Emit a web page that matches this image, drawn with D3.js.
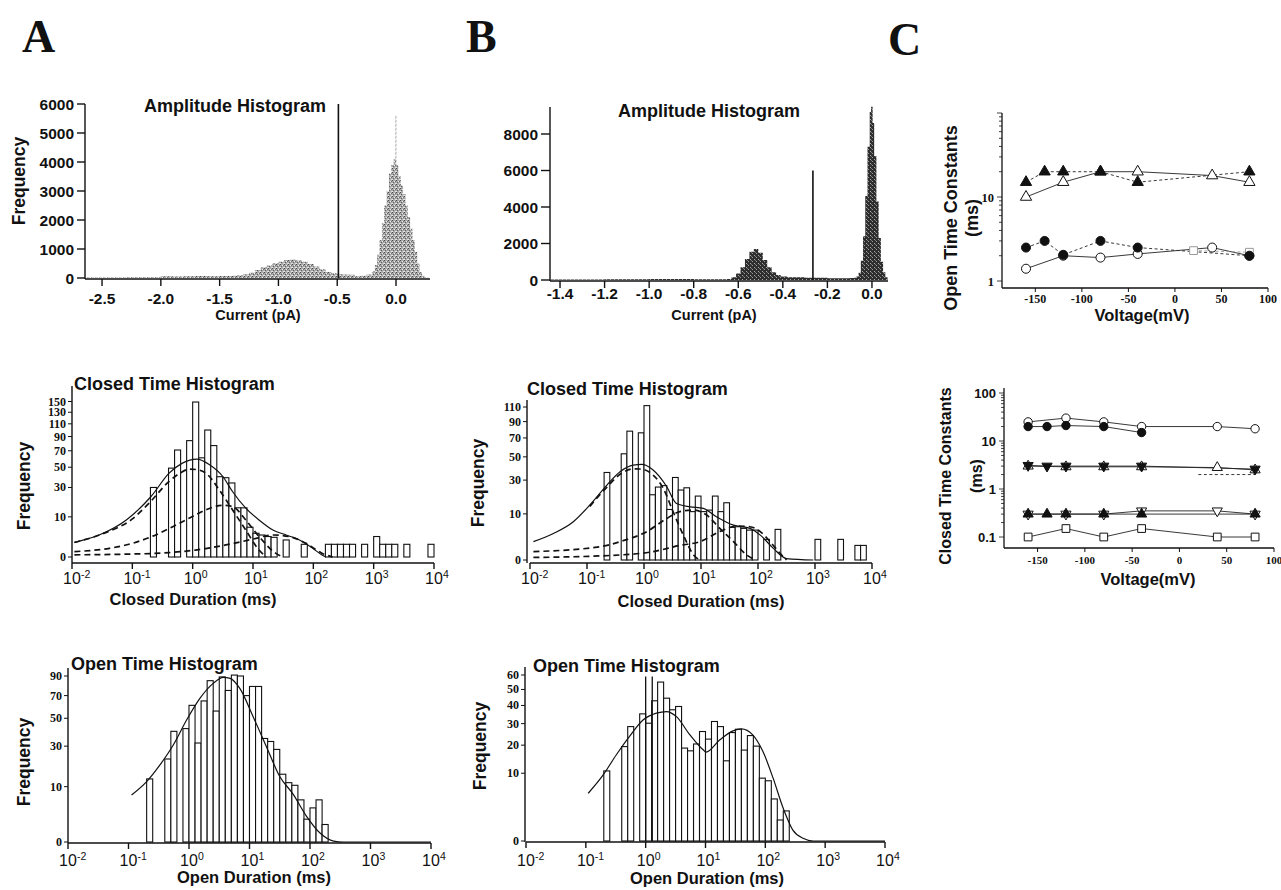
<!DOCTYPE html>
<html>
<head>
<meta charset="utf-8">
<script src="https://cdn.jsdelivr.net/npm/d3@7/dist/d3.min.js"></script>
<style>
  body { margin: 0; background: #fff; }
  text { font-family: "Liberation Sans", Arial, sans-serif; fill: #111; }
  .ser { font-family: "Liberation Serif", "Times New Roman", serif; }
</style>
</head>
<body>
<svg id="fig" width="1281" height="890"></svg>
<script>
// ---------- amplitude histograms (bin left edge in pA, count) ----------
var ampA_I = [-2.64,-2.5,-2.3,-2.1,-2.0,-1.9,-1.8,-1.7,-1.6,-1.5,-1.4,-1.35,-1.3,-1.25,-1.2,-1.15,-1.1,-1.05,-1.0,-0.95,
              -0.9,-0.85,-0.8,-0.75,-0.7,-0.65,-0.6,-0.55,-0.5,-0.45,-0.4,-0.35,-0.3,-0.25,-0.2,-0.18,-0.16,-0.14,-0.12,-0.1,
              -0.08,-0.06,-0.04,-0.02,-0.004,0.002,0.02,0.04,0.06,0.08,0.1,0.12,0.14,0.16,0.18,0.2,0.22,0.24,0.26,0.28];
var ampA_N = [20,20,25,30,60,55,60,65,60,70,80,100,130,180,280,380,430,520,560,620,
              640,600,560,480,400,300,210,160,130,120,110,60,80,120,240,450,800,1300,1900,2500,
              3000,3600,3900,4100,5600,3900,3500,3200,2900,2500,2100,1700,1300,900,500,200,80,30,10,0];
var ampA_xticks = [-2.5,-2.0,-1.5,-1.0,-0.5,0.0];
var ampA_yticks = [0,1000,2000,3000,4000,5000,6000];
var ampA_cut = -0.49;

var ampB_I = [-1.445,-1.2,-1.0,-0.8,-0.65,-0.63,-0.61,-0.59,-0.57,-0.55,-0.53,-0.51,-0.49,-0.47,-0.45,-0.43,-0.41,-0.38,
              -0.3,-0.2,-0.1,-0.08,-0.07,-0.06,-0.05,-0.04,-0.03,-0.02,-0.01,-0.004,0.003,0.01,0.02,0.03,0.04,0.05,0.06,0.07];
var ampB_N = [30,40,50,40,60,150,350,700,1150,1550,1700,1500,1100,700,420,270,190,150,
              120,100,110,130,190,400,1050,2400,4600,7300,9200,9500,8600,6800,4300,2300,1000,420,150,0];
var ampB_xticks = [-1.4,-1.2,-1.0,-0.8,-0.6,-0.4,-0.2,0.0];
var ampB_yticks = [0,2000,4000,6000,8000];
var ampB_cut = -0.265;

// ---------- dwell-time histograms (bin start in log10 ms, 10 bins/decade) ----------
var closedA_bin = [-0.7,-0.4,-0.3,-0.1,0.0,0.1,0.2,0.3,0.4,0.5,0.6,0.7,0.8,0.9,1.0,1.1,1.2,1.3,1.5,1.8,
                   2.2,2.3,2.4,2.5,2.6,2.8,3.0,3.1,3.2,3.3,3.5,3.9];
var closedA_n   = [30,49,71,84,149,61,100,77,40,39,34,15,15,5.5,3.5,3,2.6,2.4,1.8,1,
                   1,1,1,1,1,1,2.6,1,1,1,1,1];
var closedA_fitT = [-1.96,-1.55,-1.1,-0.69,-0.39,-0.17,0.07,0.28,0.5,0.66,0.88,1.1,1.33,1.55,1.77,1.99,2.15,2.21];
var closedA_fitN = [1.34,3.0,8.5,22.7,43.6,54.7,59.5,52.8,40.2,26.6,14.8,8.5,4.5,3.0,1.8,0.47,0.02,0];
var closedA_c1T = [-1.96,-1.5,-1.0,-0.7,-0.4,-0.2,-0.05,0.1,0.22,0.44,0.66,0.88,1.1,1.22];
var closedA_c1N = [1.3,3.3,9,19,35,44,48,47,43.6,28,13.8,4.5,0.3,0];
var closedA_c2T = [-1.96,-1.38,-1.0,-0.66,-0.33,-0.06,0.22,0.5,0.66,0.88,1.1,1.38,1.5];
var closedA_c2N = [0.18,0.47,1.16,2.7,5.7,9.3,13.8,16.6,15.8,8.5,2.6,0.08,0];
var closedA_c3T = [-1.96,-1.1,-0.39,0.05,0.55,0.99,1.33,1.6,1.88,2.15,2.32];
var closedA_c3N = [0.03,0.05,0.12,0.3,0.9,1.95,3.0,2.6,1.16,0.08,0];
var closedA_yticks = [0,10,30,50,70,90,110,130,150];

var closedB_bin = [-0.7,-0.4,-0.3,-0.1,0.0,0.1,0.2,0.3,0.4,0.5,0.6,0.7,0.8,0.9,1.0,1.1,1.2,1.3,1.4,1.5,
                   1.6,1.7,1.8,1.9,2.1,2.3,3.0,3.4,3.7,3.8];
var closedB_n   = [36,53,78,76,112,20,25,26,12,32,23,24.5,11,19.2,11,11.7,19.2,11,15.4,5,
                   5.2,4.7,4.2,4.2,2,4.4,2,2,1,1];
var closedB_fitT = [-1.94,-1.59,-1.24,-0.95,-0.65,-0.42,-0.19,-0.04,0.16,0.40,0.57,0.81,1.04,1.27,1.57,1.86,2.04,2.27,2.5,2.97];
var closedB_fitN = [1.58,3.3,6.9,14.2,26.4,36.6,42.3,42.9,38,25.2,15,13.3,12.5,8.8,5.7,4.7,2.9,0.64,0.01,0];
var closedB_c1T = [-0.95,-0.65,-0.42,-0.19,-0.07,0.16,0.34,0.51,0.69,0.87,0.98];
var closedB_c1N = [13.5,25,34.5,39,38.9,33.9,24,11,2.9,0.12,0];
var closedB_c2T = [-1.94,-0.77,-0.42,0.05,0.4,0.63,0.87,1.1,1.33,1.57,1.8,1.95];
var closedB_c2N = [0.33,0.83,1.58,3.8,8.1,11,11.7,9.5,4.7,1.6,0.12,0];
var closedB_c3T = [-1.94,-0.42,0.16,0.63,0.98,1.33,1.63,1.86,2.04,2.21,2.39,2.5];
var closedB_c3N = [0.03,0.12,0.33,1.0,1.58,3.8,5.4,5.2,3.8,1.6,0.2,0];
var closedB_yticks = [0,10,30,50,70,90,110];

var openA_bin = [-0.7,-0.4,-0.3,-0.1,0.0,0.1,0.2,0.3,0.4,0.5,0.6,0.7,0.8,0.9,1.0,1.1,1.2,1.3,1.4,1.5,
                 1.6,1.7,1.8,1.9,2.0,2.1,2.2];
var openA_n   = [13,22.5,40,42,61,32,65,85,56,89,75,91,90,70,79,79,35,33,28,15,
                 11.5,10.5,5.8,1.7,3.8,5.8,1];
var openA_fitT = [-0.95,-0.7,-0.48,-0.26,-0.04,0.18,0.4,0.57,0.68,0.84,1.06,1.28,1.5,1.72,1.94,2.17,2.39,2.55,4];
var openA_fitN = [7.2,11.9,19.4,30.7,48.6,67.4,82.2,88.5,87.5,77,51.3,29.7,14,7.5,2.2,0.25,0.003,0,0];
var openA_yticks = [0,10,30,50,70,90];

var openB_bin = [-0.7,-0.4,-0.3,-0.1,0.0,0.1,0.2,0.3,0.4,0.5,0.6,0.7,0.8,0.9,1.0,1.1,1.2,1.3,1.4,1.5,
                 1.6,1.7,1.8,1.9,2.0,2.1,2.2,2.3];
var openB_n   = [10.7,19.4,28.5,35.2,30.2,42.8,55,44.4,37.5,39.4,18.8,17.7,20.5,26.1,22.6,31.1,28.5,14,25.6,27.2,
                 18,24.2,19.6,8.6,7.9,3.85,0.96,1.97];
var openB_spikeT = [0.0,0.11];
var openB_spikeN = [59,59];
var openB_fitT = [-0.96,-0.71,-0.49,-0.27,-0.04,0.18,0.35,0.51,0.74,0.96,1.01,1.24,1.46,1.6,1.79,1.96,2.13,2.30,2.46,2.63,2.8,4];
var openB_fitN = [4.96,9.5,16.2,23.8,32,35.6,36.5,33.8,24.5,18.1,17.2,22.3,26.4,27.4,24.5,17.4,8.6,2.3,0.26,0.016,0,0];
var openB_yticks = [0,10,20,30,40,50,60];

var decades = [-2,-1,0,1,2,3,4];

// ---------- panel C: time constants vs voltage ----------
var vOpTriF = [-160,-140,-120,-80,-40,80],  tOpTriF = [15,20,20,20,15,20];
var vOpTriO = [-160,-120,-80,-40,40,80],    tOpTriO = [10,15,20,20,18,15];
var vOpCirF = [-160,-140,-120,-80,-40,80],  tOpCirF = [2.5,3,2.05,3,2.5,2];
var vOpCirO = [-160,-120,-80,-40,40,80],    tOpCirO = [1.4,2,1.9,2.1,2.5,2];
var vOpSq   = [20,80],                      tOpSq   = [2.3,2.2];

var vClCirO = [-160,-120,-80,-40,40,80],      tClCirO = [25,30,25,20,20,18];
var vClCirF = [-160,-140,-120,-80,-40],       tClCirF = [20,20,21,20,15];
var vClDnF  = [-160,-140,-120,-80,-40,80],    tClDnF  = [3.1,3,3,3,3,2.6];
var vClUpO  = [-160,-120,-80,-40,40,80],      tClUpO  = [3,2.9,2.9,2.9,2.8,2.5];
var vClDash = [20,80],                        tClDash = [2,2];
var vClUpF  = [-160,-140,-120,-80,-40,80],    tClUpF  = [0.3,0.3,0.3,0.3,0.3,0.3];
var vClDnO  = [-160,-120,-80,-40,40,80],      tClDnO  = [0.3,0.3,0.3,0.35,0.35,0.3];
var vClSq   = [-160,-120,-80,-40,40,80],      tClSq   = [0.1,0.15,0.1,0.15,0.1,0.1];

var cX_ticks = [-150,-100,-50,0,50,100];
var cTop_ylab = [1,10];
var cBot_ylab = [0.1,1,10,100];

// ---------------------------------------------------------------
var svg = d3.select("#fig");
var defs = svg.append("defs");

function stipple(id, bg, dots) {
  var p = defs.append("pattern").attr("id", id)
    .attr("width", 4).attr("height", 4).attr("patternUnits", "userSpaceOnUse");
  p.append("rect").attr("width", 4).attr("height", 4).attr("fill", bg);
  dots.forEach(function(d){
    p.append("rect").attr("x", d[0]).attr("y", d[1]).attr("width", 1).attr("height", 1).attr("fill", d[2]);
  });
}
stipple("dotA", "#a9a9a9", [[0,0,"#4a4a4a"],[2,1,"#eeeeee"],[1,2,"#606060"],[3,3,"#dddddd"],[3,1,"#707070"],[0,3,"#e6e6e6"]]);
stipple("dotB", "#2e2e2e", [[0,1,"#9a9a9a"],[2,3,"#aaaaaa"],[3,0,"#777777"]]);

function label(g, x, y, s, size, o) {
  o = o || {};
  var t = g.append("text").attr("x", x).attr("y", y).text(s)
    .attr("font-size", size + "px")
    .attr("font-weight", o.weight || "bold")
    .attr("text-anchor", o.anchor || "start");
  if (o.serif) t.attr("class", "ser");
  if (o.rot) t.attr("transform", "rotate(-90," + x + "," + y + ")");
  return t;
}
function hline(g, x1, x2, y, w) {
  g.append("line").attr("x1", x1).attr("x2", x2).attr("y1", y).attr("y2", y)
    .attr("stroke", "#111").attr("stroke-width", w || 1.4);
}
function vline(g, x, y1, y2, w) {
  g.append("line").attr("x1", x).attr("x2", x).attr("y1", y1).attr("y2", y2)
    .attr("stroke", "#111").attr("stroke-width", w || 1.4);
}

// panel letters
label(svg, 22, 52, "A", 46, {serif: true});
label(svg, 466, 52, "B", 46, {serif: true});
label(svg, 888, 55, "C", 46, {serif: true});

// ---------- amplitude panels ----------
function ampPanel(o) {
  var g = svg.append("g");
  var x = d3.scaleLinear().domain(o.xdom).range(o.xr);
  var y = d3.scaleLinear().domain([0, o.ymax]).range([o.y0, o.ymaxPx]);
  var pts = o.I.map(function(v, i){ return [v, o.N[i]]; });
  g.append("path").datum(pts)
    .attr("d", d3.area().curve(d3.curveStepAfter)
      .x(function(d){ return x(d[0]); }).y0(y(0)).y1(function(d){ return y(d[1]); }))
    .attr("fill", "url(#" + o.fill + ")");
  vline(g, x(o.cut), y(0), y(6000), 1.6);
  // y axis
  vline(g, o.xr[0], o.axisY, o.yTopPx);
  o.yticks.forEach(function(v){
    hline(g, o.xr[0] - o.ytick, o.xr[0], y(v));
    label(g, o.xr[0] - o.ytick - 3, y(v) + 5.5, String(v), 15.5, {anchor: "end"});
  });
  // x axis
  hline(g, o.xr[0], o.xr[1], o.axisY);
  o.xticks.forEach(function(v){
    vline(g, x(v), o.axisY, o.axisY + 7);
    label(g, x(v), o.xlabY, v.toFixed(1), 15.5, {anchor: "middle"});
  });
  label(g, o.titleX, o.titleY, "Amplitude Histogram", 18, {anchor: "middle"});
  label(g, o.xtitleX, o.xtitleY, "Current (pA)", 14.5, {anchor: "middle"});
  if (o.ylab) label(g, o.ylab[0], o.ylab[1], "Frequency", 17.5, {anchor: "middle", rot: true});
}

ampPanel({I: ampA_I, N: ampA_N, xdom: [-2.645, 0.289], xr: [85, 430], ymax: 6000, y0: 278, ymaxPx: 104,
  yTopPx: 104, axisY: 279, fill: "dotA", cut: ampA_cut, yticks: ampA_yticks, xticks: ampA_xticks, ytick: 8,
  xlabY: 304, titleX: 235, titleY: 112, xtitleX: 258, xtitleY: 320, ylab: [25, 181]});
ampPanel({I: ampB_I, N: ampB_N, xdom: [-1.445, 0.072], xr: [550, 888], ymax: 8000, y0: 280, ymaxPx: 134,
  yTopPx: 107, axisY: 281, fill: "dotB", cut: ampB_cut, yticks: ampB_yticks, xticks: ampB_xticks, ytick: 9,
  xlabY: 299, titleX: 709, titleY: 117, xtitleX: 714, xtitleY: 320, ylab: null});

// ---------- dwell-time histograms ----------
function durPanel(o) {
  var g = svg.append("g");
  var x = d3.scaleLog().domain([1e-2, 1e4]).range(o.xr);
  var y = d3.scaleSqrt().domain([0, o.ymax]).range([o.y0, o.ymaxPx]);
  var bars = o.bin.map(function(b, i){ return {lo: Math.pow(10, b), hi: Math.pow(10, b + 0.1), n: o.n[i]}; });
  g.selectAll("rect.bar").data(bars).join("rect").attr("class", "bar")
    .attr("x", function(d){ return x(d.lo); })
    .attr("width", function(d){ return x(d.hi) - x(d.lo); })
    .attr("y", function(d){ return y(d.n); })
    .attr("height", function(d){ return y(0) - y(d.n); })
    .attr("fill", "#fff").attr("stroke", "#111").attr("stroke-width", 1.1);
  if (o.spikeT) o.spikeT.forEach(function(t, i){
    vline(g, x(Math.pow(10, t)), y(0), y(o.spikeN[i]), 1.3);
  });
  var line = d3.line().curve(d3.curveMonotoneX)
    .x(function(d){ return x(Math.pow(10, d[0])); }).y(function(d){ return y(d[1]); });
  (o.comps || []).forEach(function(c){
    g.append("path").datum(c[0].map(function(t, i){ return [t, c[1][i]]; }))
      .attr("d", line).attr("fill", "none").attr("stroke", "#111")
      .attr("stroke-width", 1.7).attr("stroke-dasharray", "6,4");
  });
  g.append("path").datum(o.fitT.map(function(t, i){ return [t, o.fitN[i]]; }))
    .attr("d", line).attr("fill", "none").attr("stroke", "#111").attr("stroke-width", 1.2);
  // axes
  vline(g, o.yAxisX, o.axisY, o.yTopPx);
  o.yticks.forEach(function(v){
    hline(g, o.yAxisX - 4, o.yAxisX, y(v), 1);
    label(g, o.yAxisX - 6, y(v) + 4, String(v), 12, {anchor: "end", serif: true});
  });
  hline(g, o.xr[0], o.xr[1], o.axisY);
  decades.forEach(function(e){
    var px = x(Math.pow(10, e));
    vline(g, px, o.axisY, o.axisY + 6);
    label(g, px, o.xlabY, "10", 16, {anchor: "middle", weight: "normal"});
    label(g, px + 9, o.xlabY - 6, String(e), 10.5, {weight: "normal"});
  });
  label(g, o.titleX, o.titleY, o.title, 18);
  label(g, o.xtitle[0], o.xtitle[1], o.xtitleText, 16.5, {anchor: "middle"});
  label(g, o.ylab[0], o.ylab[1], "Frequency", 17.5, {anchor: "middle", rot: true});
}

durPanel({xr: [72, 434], ymax: 150, y0: 557, ymaxPx: 401.5, yAxisX: 72, yTopPx: 386, axisY: 563,
  bin: closedA_bin, n: closedA_n, fitT: closedA_fitT, fitN: closedA_fitN,
  comps: [[closedA_c1T, closedA_c1N], [closedA_c2T, closedA_c2N], [closedA_c3T, closedA_c3N]],
  yticks: closedA_yticks, xlabY: 584, title: "Closed Time Histogram", titleX: 74, titleY: 389.5,
  xtitleText: "Closed Duration (ms)", xtitle: [193, 605], ylab: [30, 486]});
durPanel({xr: [530, 872], ymax: 110, y0: 560, ymaxPx: 407, yAxisX: 527, yTopPx: 400, axisY: 563,
  bin: closedB_bin, n: closedB_n, fitT: closedB_fitT, fitN: closedB_fitN,
  comps: [[closedB_c1T, closedB_c1N], [closedB_c2T, closedB_c2N], [closedB_c3T, closedB_c3N]],
  yticks: closedB_yticks, xlabY: 584, title: "Closed Time Histogram", titleX: 527, titleY: 395,
  xtitleText: "Closed Duration (ms)", xtitle: [701, 607], ylab: [484, 483]});
durPanel({xr: [68, 431], ymax: 90, y0: 842, ymaxPx: 676, yAxisX: 68, yTopPx: 668, axisY: 843,
  bin: openA_bin, n: openA_n, fitT: openA_fitT, fitN: openA_fitN,
  yticks: openA_yticks, xlabY: 866, title: "Open Time Histogram", titleX: 71, titleY: 670,
  xtitleText: "Open Duration (ms)", xtitle: [254, 883], ylab: [30, 762]});
durPanel({xr: [526, 885], ymax: 60, y0: 841, ymaxPx: 675, yAxisX: 525, yTopPx: 667, axisY: 842,
  bin: openB_bin, n: openB_n, fitT: openB_fitT, fitN: openB_fitN, spikeT: openB_spikeT, spikeN: openB_spikeN,
  yticks: openB_yticks, xlabY: 866, title: "Open Time Histogram", titleX: 533, titleY: 672,
  xtitleText: "Open Duration (ms)", xtitle: [707, 884], ylab: [486, 746]});

// ---------- panel C ----------
function cPanel(o) {
  var g = svg.append("g");
  var x = d3.scaleLinear().domain(o.xdom).range(o.xr);
  var y = d3.scaleLog().domain(o.ydom).range(o.yr);
  // axes
  vline(g, o.xr[0], o.axisY, o.yTopPx, 1.3);
  hline(g, o.xr[0], o.xr[1], o.axisY, 1.3);
  o.minor.forEach(function(v){
    var major = Math.abs(Math.log10(v) - Math.round(Math.log10(v))) < 1e-6;
    hline(g, o.xr[0] - (major ? 5 : 3), o.xr[0], y(v), 0.8);
  });
  o.ylab.forEach(function(v){
    label(g, o.xr[0] - 8, y(v) + 4.5, String(v), o.ylabSize, {anchor: "end", serif: o.ylabSerif});
  });
  cX_ticks.forEach(function(v){
    vline(g, x(v), o.axisY, o.axisY + 4, 1);
    label(g, x(v), o.xlabY, String(v), o.xlabSize, {anchor: "middle", serif: true});
  });
  label(g, o.xtitle[0], o.xtitle[1], "Voltage(mV)", 16.5, {anchor: "middle"});
  label(g, o.ytitle[0], o.ytitle[1], o.ytitleText, o.ytitleSize, {anchor: "middle", rot: true});
  label(g, o.ytitle[2], o.ytitle[1], "(ms)", o.ytitleSize, {anchor: "middle", rot: true});
  var line = d3.line().x(function(d){ return x(d[0]); }).y(function(d){ return y(d[1]); });
  o.series.forEach(function(s){
    var pts = s.v.map(function(v, i){ return [v, s.t[i]]; });
    g.append("path").datum(pts).attr("d", line).attr("fill", "none")
      .attr("stroke", s.lc || "#222").attr("stroke-width", 0.9)
      .attr("stroke-dasharray", s.dash ? "3,2.5" : null);
  });
  o.series.forEach(function(s){
    if (!s.sym) return;
    var sym = d3.symbol().type(s.sym).size(s.size);
    s.v.forEach(function(v, i){
      g.append("path").attr("d", sym)
        .attr("transform", "translate(" + x(v) + "," + y(s.t[i]) + ")" + (s.down ? " rotate(180)" : ""))
        .attr("fill", s.filled ? "#111" : "#fff")
        .attr("stroke", s.sc || "#111").attr("stroke-width", 1);
    });
  });
}

var minorTop = [], minorBot = [];
[1, 10].forEach(function(d){ for (var k = 1; k <= 9; k++) minorTop.push(k * d); });
minorTop.push(100);
[0.1, 1, 10].forEach(function(d){ for (var k = 1; k <= 9; k++) minorBot.push(k * d); });
minorBot.push(100);

cPanel({xdom: [-185.8, 100], xr: [1002, 1268], ydom: [1, 10], yr: [281, 197], axisY: 288, yTopPx: 113,
  minor: minorTop, ylab: cTop_ylab, ylabSize: 12.5, ylabSerif: true, xlabY: 303, xlabSize: 12,
  xtitle: [1142, 321], ytitle: [957, 218, 978], ytitleText: "Open Time Constants", ytitleSize: 18,
  series: [
    {v: vOpTriO, t: tOpTriO, sym: d3.symbolTriangle, size: 55, filled: false},
    {v: vOpTriF, t: tOpTriF, sym: d3.symbolTriangle, size: 55, filled: true, dash: true},
    {v: vOpCirO, t: tOpCirO, sym: d3.symbolCircle, size: 64, filled: false},
    {v: vOpSq, t: tOpSq, sym: d3.symbolSquare, size: 60, filled: false, sc: "#999", lc: "#999", dash: true},
    {v: vOpCirF, t: tOpCirF, sym: d3.symbolCircle, size: 64, filled: true, dash: true}
  ]});

cPanel({xdom: [-185.5, 100], xr: [1004, 1274], ydom: [0.1, 100], yr: [537, 393], axisY: 548, yTopPx: 388,
  minor: minorBot, ylab: cBot_ylab, ylabSize: 13, ylabSerif: false, xlabY: 564, xlabSize: 11,
  xtitle: [1148, 585], ytitle: [951, 476, 982], ytitleText: "Closed Time Constants", ytitleSize: 16,
  series: [
    {v: vClCirO, t: tClCirO, sym: d3.symbolCircle, size: 55, filled: false},
    {v: vClCirF, t: tClCirF, sym: d3.symbolCircle, size: 55, filled: true},
    {v: vClDash, t: tClDash, dash: true},
    {v: vClUpO, t: tClUpO, sym: d3.symbolTriangle, size: 45, filled: false},
    {v: vClDnF, t: tClDnF, sym: d3.symbolTriangle, size: 45, filled: true, down: true},
    {v: vClDnO, t: tClDnO, sym: d3.symbolTriangle, size: 45, filled: false, down: true},
    {v: vClUpF, t: tClUpF, sym: d3.symbolTriangle, size: 45, filled: true},
    {v: vClSq, t: tClSq, sym: d3.symbolSquare, size: 60, filled: false}
  ]});
</script>
</body>
</html>
